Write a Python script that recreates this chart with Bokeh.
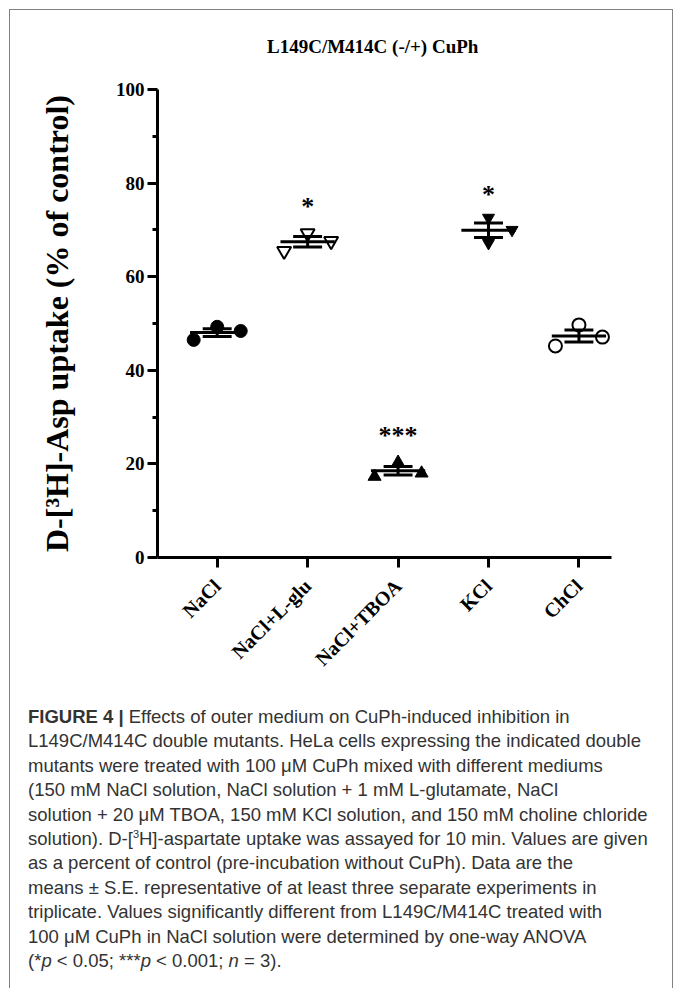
import numpy as np
from math import pi
from bokeh.plotting import figure
from bokeh.models import Range1d, FixedTicker, Div, ColumnDataSource
from bokeh.layouts import column
from bokeh.embed import file_html
from bokeh.resources import INLINE
from bokeh.core.properties import value

# ---------------- data ----------------
categories = ["NaCl", "NaCl+L-glu", "NaCl+TBOA", "KCl", "ChCl"]
nacl = [46.5, 49.3, 48.4]
nacl_lglu = [65.5, 69.3, 67.6]
nacl_tboa = [17.3, 20.3, 18.0]
kcl = [72.6, 67.2, 70.0]
chcl = [45.2, 49.7, 47.1]
significance = ["", "*", "***", "*", ""]
y_ticks = [0, 20, 40, 60, 80, 100]
y_minor_ticks = [10, 30, 50, 70, 90]
chart_title = "L149C/M414C (-/+) CuPh"

groups = [nacl, nacl_lglu, nacl_tboa, kcl, chcl]

# ---------------- styling ----------------
markers = ["circle", "inverted_triangle", "triangle", "inverted_triangle", "circle"]
filled = [True, False, True, True, False]
marker_size = [13, 14, 13, 12, 13]
jitter = [[-0.26, 0, 0.26], [-0.26, 0, 0.26], [-0.26, 0, 0.26], [0, 0, 0.26], [-0.26, 0, 0.26]]
SERIF = "Liberation Serif"

title_div = Div(text=("<div style=\"font-family:'Liberation Serif';font-weight:bold;font-size:19px;"
                      "line-height:22px;color:black;padding-left:252px;padding-top:21px;"
                      "white-space:nowrap\">" + chart_title + "</div>"),
                width=652, height=51)

p = figure(width=652, height=629, x_range=Range1d(-0.66, 4.36), y_range=Range1d(0, 100),
           output_backend="svg", toolbar_location=None,
           min_border_left=147, min_border_right=51, min_border_top=18, min_border_bottom=143)
p.outline_line_color = None
p.grid.visible = False
p.background_fill_color = "white"
p.border_fill_color = "white"

# y axis
ya = p.yaxis[0]
ya.ticker = FixedTicker(ticks=y_ticks, minor_ticks=y_minor_ticks)
ya.axis_line_width = 3
ya.major_tick_line_width = 3
ya.minor_tick_line_width = 3
ya.major_tick_out = 10
ya.major_tick_in = 0
ya.minor_tick_out = 5
ya.minor_tick_in = 0
ya.major_label_text_font = SERIF
ya.major_label_text_font_style = "bold"
ya.major_label_text_font_size = "19px"
ya.major_label_text_color = "black"
ya.major_label_standoff = 3
ya.axis_label = "D-[\u00b3H]-Asp uptake (% of control)"
ya.axis_label_text_font = SERIF
ya.axis_label_text_font_style = "bold"
ya.axis_label_text_font_size = "32px"
ya.axis_label_text_color = "black"
ya.axis_label_standoff = 38

# x axis
xa = p.xaxis[0]
xa.ticker = FixedTicker(ticks=list(range(len(categories))), minor_ticks=[])
xa.major_label_overrides = {i: c for i, c in enumerate(categories)}
xa.major_label_orientation = pi / 4
xa.axis_line_width = 3
xa.major_tick_line_width = 3
xa.major_tick_out = 10
xa.major_tick_in = 0
xa.minor_tick_line_color = None
xa.major_label_text_font = SERIF
xa.major_label_text_font_style = "bold"
xa.major_label_text_font_size = "20px"
xa.major_label_text_color = "black"
xa.major_label_standoff = 15

# points
for i, vals in enumerate(groups):
    xs = [i + j for j in jitter[i]]
    p.scatter(xs, vals, marker=markers[i], size=marker_size[i],
              fill_color="black" if filled[i] else "white",
              line_color="black", line_width=1 if filled[i] else 2)

# mean and SE bars
means = np.array([np.mean(g) for g in groups])
ses = np.array([np.std(g, ddof=1) / np.sqrt(len(g)) for g in groups])
idx = np.arange(len(groups))
mean_half, cap_half = 0.30, 0.16
seg = ColumnDataSource(dict(
    x0=np.concatenate([idx - mean_half, idx - cap_half, idx - cap_half, idx]),
    x1=np.concatenate([idx + mean_half, idx + cap_half, idx + cap_half, idx]),
    y0=np.concatenate([means, means + ses, means - ses, means - ses]),
    y1=np.concatenate([means, means + ses, means - ses, means + ses]),
))
p.segment("x0", "y0", "x1", "y1", source=seg, line_color="black", line_width=3)

# significance stars
star_src = ColumnDataSource(dict(x=[i for i, s in enumerate(significance) if s],
                                 y=[means[i] + 7.6 for i, s in enumerate(significance) if s],
                                 t=[s for s in significance if s]))
p.text("x", "y", text="t", source=star_src, text_align="center", text_baseline="alphabetic",
       text_font=value(SERIF), text_font_style="bold", text_font_size="26px", text_color="black")

caption_lines = [
    "<b>FIGURE 4 |</b> Effects of outer medium on CuPh-induced inhibition in",
    "L149C/M414C double mutants. HeLa cells expressing the indicated double",
    "mutants were treated with 100 \u03bcM CuPh mixed with different mediums",
    "(150 mM NaCl solution, NaCl solution + 1 mM L-glutamate, NaCl",
    "solution + 20 \u03bcM TBOA, 150 mM KCl solution, and 150 mM choline chloride",
    "solution). D-[<sup style='font-size:11px;line-height:0'>3</sup>H]-aspartate uptake was assayed for 10 min. Values are given",
    "as a percent of control (pre-incubation without CuPh). Data are the",
    "means \u00b1 S.E. representative of at least three separate experiments in",
    "triplicate. Values significantly different from L149C/M414C treated with",
    "100 \u03bcM CuPh in NaCl solution were determined by one-way ANOVA",
    "(*<i>p</i> &lt; 0.05; ***<i>p</i> &lt; 0.001; <i>n</i> = 3).",
]
html = ("<div style=\"font-family:'Liberation Sans';font-size:18.5px;line-height:24.4px;"
        "color:#333333;padding-left:13px;padding-top:0px;white-space:nowrap\">"
        + "<br>".join(caption_lines) + "</div>")
cap = Div(text=html, width=652, height=279)

layout = column(title_div, p, cap, styles={"border": "1px solid #808285", "border-bottom": "none",
                                           "margin-left": "9px", "margin-top": "9px"})

open("out.html", "w").write(file_html(layout, INLINE))
